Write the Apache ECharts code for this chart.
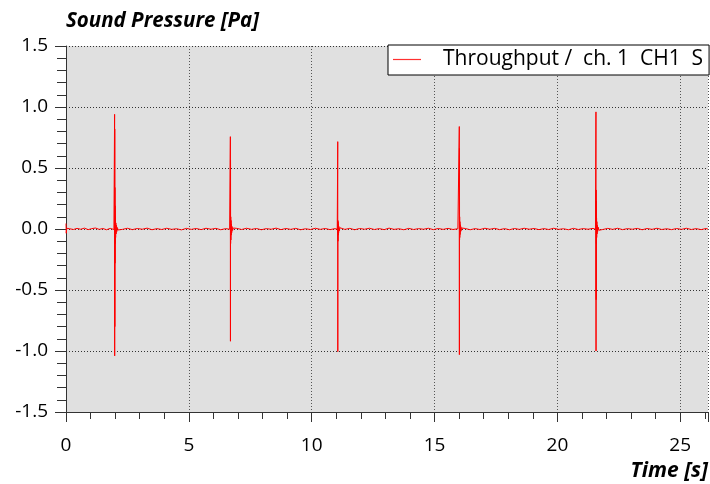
<!DOCTYPE html>
<html>
<head>
<meta charset="utf-8">
<script src="https://cdn.jsdelivr.net/npm/echarts@6/dist/echarts.min.js"></script>
<style>html,body{margin:0;padding:0;background:#fff;}#c{width:710px;height:484px;}</style>
</head>
<body>
<div id="c"></div>
<script>
// ---- data (time in s, sound pressure in Pa) ----
const seriesName = 'Throughput /  ch. 1  CH1  S';
const yTitle = 'Sound Pressure [Pa]';
const xTitle = 'Time [s]';
const xMax = 26.13;

const quiet0 = [[0,0.045],[0.01,-0.035],[0.03,0.006],[0.15,0.002],[0.3,-0.004],[0.45,0.005],[0.6,-0.002],[0.75,0.007],[0.9,-0.005],[1.05,0.003],[1.2,0.008],[1.35,-0.003],[1.5,0.004],[1.65,-0.006],[1.8,0.005],[1.95,-0.004]];
const burst1 = [[1.975,0.01],[1.978,0.94],[1.981,-1.04],[1.984,0.82],[1.987,-0.80],[1.99,0.34],[1.995,-0.28],[2.0,0.19],[2.006,-0.12],[2.012,0.1],[2.02,-0.07],[2.03,0.05],[2.04,-0.04],[2.055,0.03],[2.07,-0.02],[2.09,0.012],[2.12,-0.008],[2.16,0.005]];
const quiet1 = [[2.3,-0.003],[2.5,0.006],[2.7,-0.005],[2.9,0.004],[3.1,-0.002],[3.3,0.007],[3.5,-0.006],[3.7,0.003],[3.9,-0.004],[4.1,0.006],[4.3,-0.003],[4.5,0.002],[4.7,-0.007],[4.9,0.005],[5.1,-0.003],[5.3,0.004],[5.5,-0.005],[5.7,0.006],[5.9,-0.002],[6.1,0.005],[6.3,-0.006],[6.5,0.003],[6.66,-0.002]];
const burst2 = [[6.688,0.01],[6.69,0.757],[6.693,-0.92],[6.696,0.566],[6.70,-0.12],[6.705,0.10],[6.71,-0.09],[6.717,0.07],[6.725,-0.05],[6.735,0.04],[6.745,-0.03],[6.76,0.02],[6.78,-0.012],[6.81,0.008],[6.85,-0.004]];
const quiet2 = [[6.95,0.005],[7.15,-0.004],[7.35,0.006],[7.55,-0.003],[7.75,0.004],[7.95,-0.006],[8.15,0.003],[8.35,-0.002],[8.55,0.007],[8.75,-0.005],[8.95,0.004],[9.15,-0.003],[9.35,0.005],[9.55,-0.006],[9.75,0.002],[9.95,-0.004],[10.15,0.006],[10.35,-0.003],[10.55,0.004],[10.75,-0.005],[10.95,0.003],[11.04,-0.002]];
const burst3 = [[11.058,0.01],[11.06,0.716],[11.063,-1.005],[11.066,0.07],[11.07,-0.10],[11.075,0.06],[11.08,-0.05],[11.088,0.04],[11.097,-0.03],[11.11,0.02],[11.125,-0.015],[11.15,0.01],[11.18,-0.006],[11.22,0.004]];
const quiet3 = [[11.35,-0.003],[11.55,0.005],[11.75,-0.006],[11.95,0.004],[12.15,-0.002],[12.35,0.006],[12.55,-0.004],[12.75,0.003],[12.95,-0.005],[13.15,0.007],[13.35,-0.003],[13.55,0.002],[13.75,-0.006],[13.95,0.005],[14.15,-0.004],[14.35,0.003],[14.55,-0.002],[14.75,0.006],[14.95,-0.005],[15.15,0.004],[15.35,-0.003],[15.55,0.005],[15.75,-0.004],[15.95,0.002]];
const burst4 = [[16.005,0.008],[16.008,0.84],[16.011,-1.03],[16.014,0.66],[16.018,-0.09],[16.022,0.10],[16.027,-0.07],[16.033,0.06],[16.04,-0.045],[16.05,0.035],[16.06,-0.025],[16.075,0.018],[16.095,-0.012],[16.12,0.008],[16.16,-0.005]];
const quiet4 = [[16.25,0.004],[16.45,-0.006],[16.65,0.003],[16.85,-0.004],[17.05,0.006],[17.25,-0.002],[17.45,0.005],[17.65,-0.005],[17.85,0.003],[18.05,-0.006],[18.25,0.004],[18.45,-0.003],[18.65,0.006],[18.85,-0.002],[19.05,0.004],[19.25,-0.005],[19.45,0.003],[19.65,-0.004],[19.85,0.006],[20.05,-0.003],[20.25,0.002],[20.45,-0.006],[20.65,0.005],[20.85,-0.004],[21.05,0.003],[21.25,-0.002],[21.45,0.005],[21.55,-0.003]];
const burst5 = [[21.568,0.01],[21.57,0.96],[21.573,-1.0],[21.576,0.32],[21.579,-0.58],[21.583,0.23],[21.588,-0.12],[21.594,0.09],[21.60,-0.07],[21.608,0.06],[21.617,-0.04],[21.628,0.03],[21.64,-0.02],[21.66,0.015],[21.69,-0.01],[21.73,0.006]];
const quiet5 = [[21.85,-0.004],[22.05,0.005],[22.25,-0.003],[22.45,0.006],[22.65,-0.005],[22.85,0.003],[23.05,-0.002],[23.25,0.005],[23.45,-0.006],[23.65,0.004],[23.85,-0.003],[24.05,0.006],[24.25,-0.004],[24.45,0.002],[24.65,-0.005],[24.85,0.004],[25.05,-0.003],[25.25,0.006],[25.45,-0.004],[25.65,0.003],[25.85,-0.005],[26.05,0.004],[26.13,-0.002]];

const signal = [].concat(quiet0, burst1, quiet1, burst2, quiet2, burst3, quiet3, burst4, quiet4, burst5, quiet5);

const FONT = 'Open Sans';
const chart = echarts.init(document.getElementById('c'), null, {renderer: 'canvas'});
chart.setOption({
  animation: false,
  backgroundColor: '#ffffff',
  title: [
    {text: yTitle, left: 66, top: 11, padding: 0,
     textStyle: {fontFamily: FONT, fontSize: 20.5, fontWeight: 'bold', fontStyle: 'italic', color: '#000'}},
    {text: xTitle, right: 2, top: 461, padding: 0,
     textStyle: {fontFamily: FONT, fontSize: 21, fontWeight: 'bold', fontStyle: 'italic', color: '#000'}}
  ],
  legend: {
    left: 388, top: 45, padding: [4, 6, 5, 5],
    backgroundColor: '#ffffff', borderColor: '#000', borderWidth: 1, borderRadius: 0,
    icon: 'rect', itemWidth: 28, itemHeight: 1.2,
    itemStyle: {color: '#ff3030', borderWidth: 0},
    textStyle: {fontFamily: FONT, fontSize: 21, color: '#000', padding: [0, 0, 0, 17]},
    data: [seriesName]
  },
  grid: {left: 66, right: 2, top: 46, bottom: 72, show: true, backgroundColor: '#e0e0e0', borderWidth: 0},
  xAxis: {
    type: 'value', min: 0, max: xMax, interval: 5,
    axisLine: {show: true, onZero: false, lineStyle: {color: '#333', width: 1}},
    axisTick: {show: true, inside: false, length: 10, lineStyle: {color: '#333'}},
    minorTick: {show: true, splitNumber: 5, length: 7, lineStyle: {color: '#333'}},
    splitLine: {show: true, lineStyle: {color: '#555', type: [1, 2], width: 1}},
    axisLabel: {fontFamily: FONT, fontSize: 19, color: '#000', margin: 24, showMaxLabel: false}
  },
  yAxis: {
    type: 'value', min: -1.5, max: 1.5, interval: 0.5,
    axisLine: {show: true, onZero: false, lineStyle: {color: '#333', width: 1}},
    axisTick: {show: true, inside: false, length: 11, lineStyle: {color: '#333'}},
    minorTick: {show: true, splitNumber: 5, length: 9, lineStyle: {color: '#333'}},
    splitLine: {show: true, lineStyle: {color: '#333', type: [1, 2], width: 1}},
    axisLabel: {fontFamily: FONT, fontSize: 19, color: '#000', margin: 18, formatter: v => v.toFixed(1)}
  },
  series: [{
    name: seriesName, type: 'line', data: signal, symbol: 'none', showSymbol: false,
    sampling: null, lineStyle: {color: '#ff0000', width: 1}, itemStyle: {color: '#ff0000'}
  }]
});
</script>
</body>
</html>
